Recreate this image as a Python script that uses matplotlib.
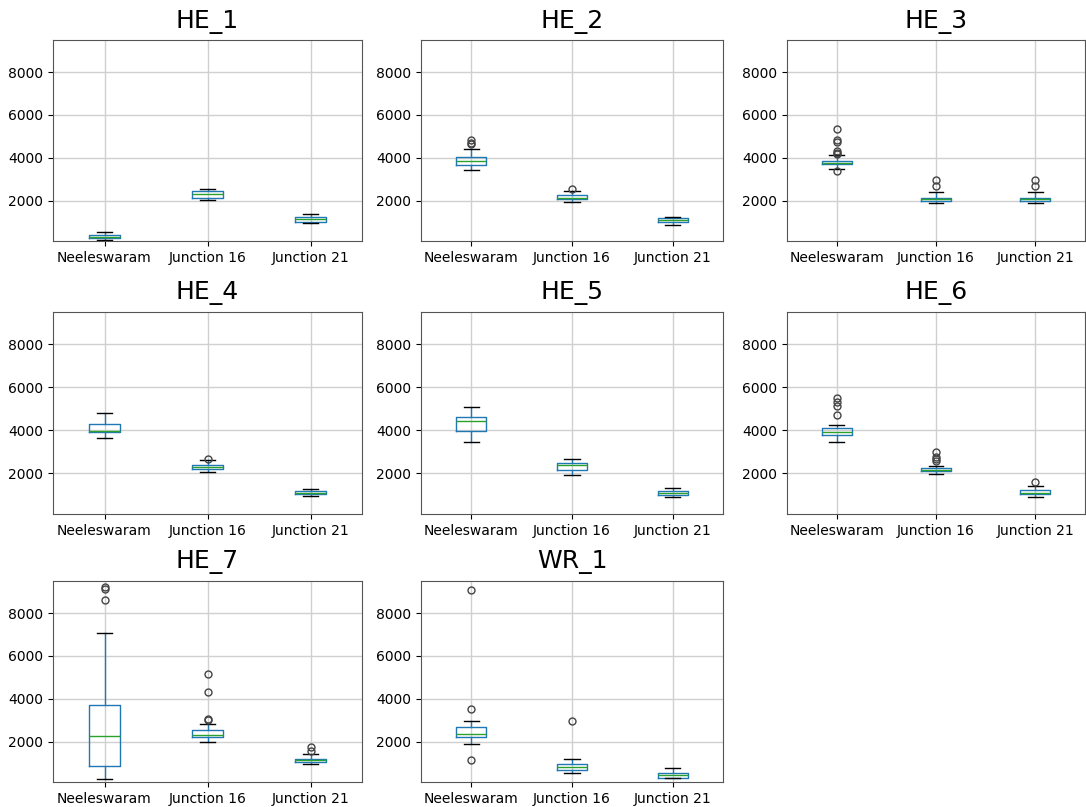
import matplotlib
matplotlib.use("Agg")
import matplotlib.pyplot as plt

sites = ["Neeleswaram", "Junction 16", "Junction 21"]
titles = ["HE_1", "HE_2", "HE_3", "HE_4", "HE_5", "HE_6", "HE_7", "WR_1"]

# per panel: one entry per site -> (whislo, q1, med, q3, whishi)
he1 = [(180, 240, 300, 380, 535), (2015, 2140, 2296, 2436, 2530), (940, 1003, 1128, 1221, 1392)]
he2 = [(3450, 3667, 3838, 4025, 4415), (1938, 2062, 2140, 2249, 2450), (880, 987, 1080, 1190, 1250)]
he3 = [(3454, 3688, 3766, 3844, 4110), (1890, 1985, 2060, 2140, 2390), (1890, 1985, 2060, 2140, 2390)]
he4 = [(3643, 3922, 3968, 4294, 4790), (2062, 2201, 2279, 2387, 2605), (961, 1039, 1101, 1178, 1272)]
he5 = [(3454, 3969, 4454, 4626, 5063), (1937, 2156, 2391, 2469, 2688), (906, 1015, 1109, 1187, 1297)]
he6 = [(3454, 3797, 3922, 4125, 4235), (1953, 2094, 2172, 2266, 2330), (906, 1047, 1109, 1219, 1391)]
he7 = [(264, 869, 2248, 3690, 7085), (1985, 2217, 2326, 2558, 2837), (930, 1054, 1132, 1194, 1395)]
wr1 = [(1891, 2203, 2343, 2670, 2981), (520, 676, 831, 956, 1205), (300, 317, 441, 535, 769)]

he1_fliers = [[], [], []]
he2_fliers = [[4835, 4700, 4650], [2560], []]
he3_fliers = [[5330, 4810, 4720, 4300, 4220, 4160, 3400], [2940, 2660], [2940, 2660]]
he4_fliers = [[], [2667], []]
he5_fliers = [[], [], []]
he6_fliers = [[5500, 5297, 5110, 4703], [2985, 2780, 2670, 2580], [1610]]
he7_fliers = [[9209, 9147, 8605], [5147, 4325, 3054, 3007], [1752, 1581]]
wr1_fliers = [[9089, 3542, 1159], [2981], []]

panels = [he1, he2, he3, he4, he5, he6, he7, wr1]
fliers = [he1_fliers, he2_fliers, he3_fliers, he4_fliers, he5_fliers,
          he6_fliers, he7_fliers, wr1_fliers]

W, H = 1086, 807
fig = plt.figure(figsize=(W / 100, H / 100), dpi=100)

cols = [(53, 362), (421, 723), (787, 1085)]
rows = [(40, 241), (312, 514), (581, 782)]

for i, name in enumerate(titles):
    r, c = divmod(i, 3)
    x0, x1 = cols[c]
    y0, y1 = rows[r]
    ax = fig.add_axes([x0 / W, 1 - y1 / H, (x1 - x0) / W, (y1 - y0) / H])
    stats = []
    for s, (lo, q1, med, q3, hi) in enumerate(panels[i]):
        stats.append({"whislo": lo, "q1": q1, "med": med, "q3": q3,
                      "whishi": hi, "fliers": fliers[i][s], "label": sites[s]})
    ax.bxp(stats, showfliers=True,
           boxprops=dict(color="#1f77b4"),
           whiskerprops=dict(color="#1f77b4"),
           medianprops=dict(color="#2ca02c"),
           capprops=dict(color="black"),
           flierprops=dict(marker="o", markerfacecolor="none",
                           markeredgecolor="#444444", markersize=5))
    ax.set_ylim(110, 9500)
    ax.set_yticks([2000, 4000, 6000, 8000])
    ax.grid(True, color="#d0d0d0", linewidth=1)
    ax.set_axisbelow(True)
    ax.tick_params(labelsize=10)
    for sp in ax.spines.values():
        sp.set_color("#555555")
    ax.set_title(name, fontsize=18, pad=9)

fig.savefig("out.png", dpi=100)
